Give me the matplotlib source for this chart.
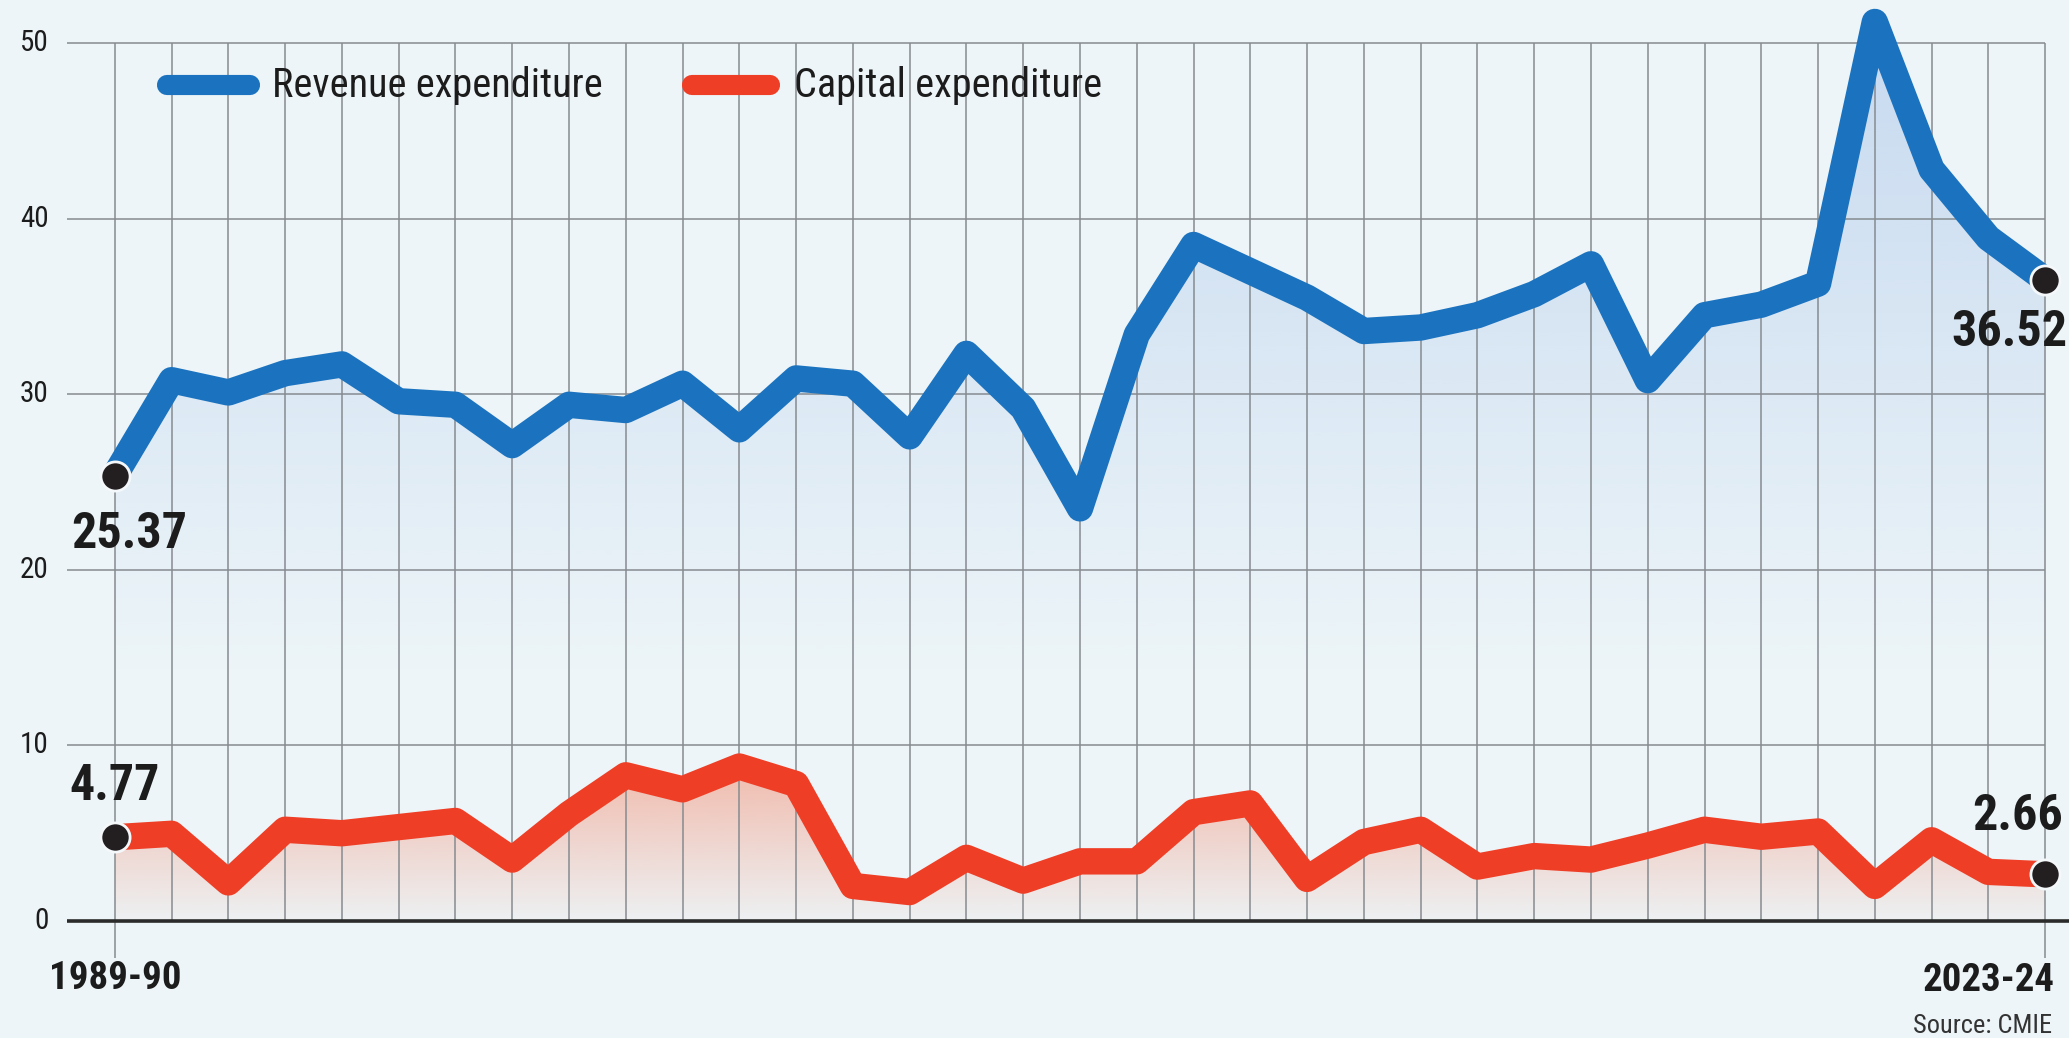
import numpy as np
import matplotlib.pyplot as plt
from matplotlib import font_manager as fm
from matplotlib.colors import to_rgb

# datos (% del gasto total)
years = [f"{y}-{str(y + 1)[-2:]}" for y in range(1989, 2024)]
revenue = [25.37, 30.8, 30.1, 31.2, 31.7, 29.6, 29.4, 27.1, 29.4, 29.1,
           30.6, 28.0, 30.9, 30.6, 27.6, 32.3, 29.2, 23.5, 33.4, 38.5,
           37.0, 35.5, 33.6, 33.8, 34.5, 35.7, 37.4, 30.8, 34.5, 35.1,
           36.3, 51.2, 42.8, 38.9, 36.52]
capital = [4.77, 4.97, 2.2, 5.2, 5.0, 5.35, 5.7, 3.5, 6.1, 8.3,
           7.5, 8.8, 7.8, 2.0, 1.65, 3.6, 2.3, 3.4, 3.4, 6.2,
           6.7, 2.4, 4.5, 5.2, 3.1, 3.7, 3.5, 4.3, 5.2, 4.8,
           5.1, 2.0, 4.6, 2.8, 2.66]
yticks = [0, 10, 20, 30, 40, 50]

bg = "#edf5f8"
blue = "#1b73bf"
red = "#ef3e26"
grid_c = "#868b90"
txt_c = "#1c1c1c"

# buscar una fuente estrecha; si no hay, Roboto un poco mas pequena
names = {f.name for f in fm.fontManager.ttflist}
cond = {f.name for f in fm.fontManager.ttflist
        if f.stretch in ("condensed", "semi-condensed", "extra-condensed")}
fam, k = None, 0.82
for n in ["Liberation Sans Narrow", "Roboto Condensed", "Open Sans Condensed",
          "Noto Sans Condensed", "DejaVu Sans Condensed"]:
    if n in names:
        fam, k = n, 1.0
        break
if fam is None:
    for n in ["Noto Sans", "Open Sans", "Roboto", "DejaVu Sans"]:
        if n in cond:
            fam, k = n, 1.0
            break
if fam is None:
    fam = "Roboto"
fonts = dict(family=[fam, "DejaVu Sans"], fontstretch="condensed")

x = np.arange(len(years))

fig = plt.figure(figsize=(20.69, 10.38), dpi=100)
fig.patch.set_facecolor(bg)
ax = fig.add_axes([0, 0, 1, 1])
ax.set_facecolor(bg)
ax.axis("off")


def grad_fill(xs, ys, color, y_bot, y_top, a_bot, a_top):
    poly = ax.fill_between(xs, ys, 0, facecolor="none", edgecolor="none")
    path = poly.get_paths()[0]
    n = 256
    arr = np.zeros((n, 1, 4))
    arr[:, :, :3] = to_rgb(color)
    arr[:, 0, 3] = np.linspace(a_bot, a_top, n)
    im = ax.imshow(arr, extent=[xs[0], xs[-1], y_bot, y_top], origin="lower",
                   aspect="auto", zorder=1, interpolation="bilinear")
    im.set_clip_path(path, transform=ax.transData)


grad_fill(x, revenue, "#a6c2ea", 14, 52, 0.0, 0.55)
grad_fill(x, capital, "#f49a82", 0, 9, 0.05, 0.65)

# rejilla
ax.vlines(x, 0, 50, color=grid_c, lw=1.1, zorder=2)
ax.vlines([x[0], x[-1]], -2.1, 0, color=grid_c, lw=1.1, zorder=2)
ax.hlines(yticks[1:], -0.85, x[-1], color=grid_c, lw=1.1, zorder=2)
ax.hlines(0, -0.85, 35, color="#2b2b2b", lw=2.6, zorder=3)

for t in yticks:
    ax.text(-1.17, t, str(t), ha="right", va="center", fontsize=21 * k,
            color=txt_c, **fonts)

# lineas
ax.plot(x, revenue, color=blue, lw=19, solid_joinstyle="round",
        solid_capstyle="round", zorder=4)
ax.plot(x, capital, color=red, lw=19, solid_joinstyle="round",
        solid_capstyle="round", zorder=4)

# puntos extremos
for s in (revenue, capital):
    ax.plot([x[0], x[-1]], [s[0], s[-1]], "o", ms=21, color="#231f20",
            mec="#f4f8fa", mew=2, zorder=5)

lab = dict(fontsize=36 * k, fontweight="bold", color=txt_c, va="center", **fonts)
ax.text(-0.77, 22.0, f"{revenue[0]:.2f}", ha="left", **lab)
ax.text(34.40, 33.5, f"{revenue[-1]:.2f}", ha="right", **lab)
ax.text(x[0], 7.65, f"{capital[0]:.2f}", ha="center", **lab)
ax.text(34.32, 5.98, f"{capital[-1]:.2f}", ha="right", **lab)

# leyenda
ax.plot([0.92, 2.38], [47.6, 47.6], color=blue, lw=14.5, solid_capstyle="round")
ax.text(2.77, 47.6, "Revenue expenditure", fontsize=29 * k, color=txt_c,
        va="center", ha="left", **fonts)
ax.plot([10.17, 11.54], [47.6, 47.6], color=red, lw=14.5, solid_capstyle="round")
ax.text(11.96, 47.6, "Capital expenditure", fontsize=29 * k, color=txt_c,
        va="center", ha="left", **fonts)

# etiquetas de eje x
ax.text(x[0], -3.3, years[0], ha="center", va="center", fontsize=28 * k,
        fontweight="bold", color=txt_c, **fonts)
ax.text(34.17, -3.4, years[-1], ha="right", va="center", fontsize=28 * k,
        fontweight="bold", color=txt_c, **fonts)
ax.text(34.12, -6.0, "Source: CMIE", ha="right", va="center", fontsize=19 * k,
        color="#333333", **fonts)

ax.set_xlim(-2.022, 34.42)
ax.set_ylim(-6.66, 52.45)

plt.savefig("out.png", dpi=100, facecolor=bg)
